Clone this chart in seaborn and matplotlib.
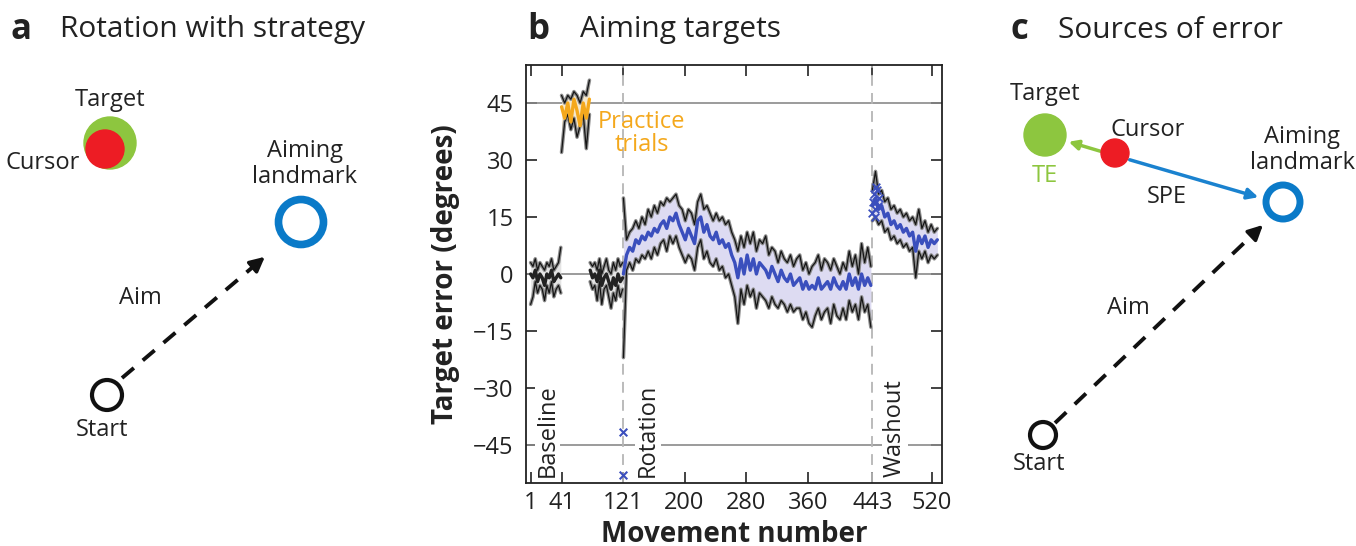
import numpy as np
import pandas as pd
import matplotlib
matplotlib.use('Agg')
import matplotlib.pyplot as plt
import seaborn as sns
from matplotlib.patches import Circle

sns.set_theme(style='ticks')
plt.rcParams['font.family'] = ['Open Sans', 'DejaVu Sans']

# ---- panel b data ----
base1_trials = np.arange(1, 41, 3)
base1_mean = [0, -1, 1, -2, 0, -1, -3, 0, -1, 1, -2, -1, 0, -1]
base1_upper = [3, 2, 4, 1, 3, 2, 1, 3, 2, 4, 1, 2, 3, 7]
base1_lower = [-8, -6, -2, -5, -3, -4, -7, -3, -5, -2, -6, -4, -3, -5]

practice_trials = np.arange(41, 78, 4)
practice_mean = [44, 41, 45, 40, 46, 43, 39, 45, 41, 46]
practice_upper = [47, 45, 47, 46, 48, 47, 45, 48, 47, 51]
practice_lower = [32, 40, 42, 38, 41, 36, 39, 42, 33, 42]

base2_trials = np.arange(78, 121, 3)
base2_mean = [1, -1, 0, -2, 1, -3, -1, 0, -2, -4, -1, -3, 0, -2, -1]
base2_upper = [3, 2, 3, 1, 4, 0, 2, 4, 1, 0, 3, 1, 4, 2, 3]
base2_lower = [-2, -4, -3, -7, -2, -8, -4, -3, -6, -9, -5, -7, -3, -6, -4]

rot_trials = np.arange(121, 442, 4)
rot_mean = [0, 5, 7, 6, 9, 8, 10, 9, 11, 10, 12, 11, 13, 14, 12, 15, 14, 16, 13, 11,
            9, 12, 10, 8, 14, 15, 11, 13, 10, 9, 11, 8, 9, 7, 8, 5, 3, -1, 4, 0,
            5, 1, 4, 0, 3, 2, 1, -1, 2, 0, -2, 1, -1, -2, 0, -3, -2, -1, -4, -2,
            -4, -3, -4, -1, -4, -3, -2, -4, -1, -3, -4, -2, -4, 0, -3, -1, -4, 0, -3, -1,
            -3]
rot_upper = [20, 9, 11, 12, 14, 12, 15, 13, 17, 15, 18, 16, 19, 18, 20, 19, 20, 21, 18, 17,
             14, 17, 16, 13, 19, 21, 17, 18, 16, 14, 16, 14, 15, 13, 14, 11, 9, 6, 10, 7,
             11, 8, 11, 6, 9, 8, 10, 5, 7, 6, 3, 6, 4, 3, 5, 2, 4, 5, 1, 3,
             0, 2, 3, 5, 1, 4, 3, 1, 4, 2, 0, 3, 1, 6, 2, 5, 0, 8, 3, 7,
             2]
rot_lower = [-22, 1, 3, 1, 4, 3, 5, 4, 6, 4, 7, 5, 8, 9, 6, 10, 8, 10, 7, 5,
             3, 5, 4, 1, 7, 9, 4, 6, 3, 2, 4, 1, 2, -1, 0, -3, -6, -13, -4, -8,
             -3, -6, -4, -9, -5, -6, -7, -9, -6, -8, -9, -7, -8, -10, -8, -10, -9, -9, -12, -10,
             -13, -14, -11, -9, -12, -10, -9, -13, -8, -11, -12, -9, -12, -7, -10, -8, -12, -6, -10, -8,
             -14]

wash_trials = np.arange(443, 528, 4)
wash_mean = [18, 20, 17, 18, 15, 16, 13, 14, 12, 13, 11, 12, 10, 11, 6, 10, 8, 10, 7, 9, 8, 9]
wash_upper = [22, 27, 21, 22, 19, 20, 17, 18, 16, 17, 15, 16, 14, 15, 13, 17, 12, 14, 11, 13, 11, 12]
wash_lower = [14, 15, 13, 14, 11, 12, 9, 10, 8, 9, 7, 8, 6, 7, -1, 6, 4, 6, 3, 5, 4, 5]

# single-trial markers
rot_x_trials = [121, 121]
rot_x_vals = [-41.5, -53]
wash_x_trials = [442, 444, 445, 446, 447, 448, 449, 450, 452, 446]
wash_x_vals = [16, 19, 21, 17, 23, 19, 22, 18, 20, 15]

yticks = [-45, -30, -15, 0, 15, 30, 45]
xticks = [1, 41, 121, 200, 280, 360, 443, 520]

blue = '#3b4fbd'
orange = '#f4a81c'
lavender = '#dddbf2'
ink = '#222222'

W, H = 1356, 546
fig = plt.figure(figsize=(W / 100, H / 100), dpi=100)

# overlay for diagrams (pixel coordinates)
ov = fig.add_axes([0, 0, 1, 1])
ov.set_xlim(0, W)
ov.set_ylim(H, 0)
ov.axis('off')


def draw_segment(ax, trials, mean, upper, lower, mean_color, fill_color):
    ax.fill_between(trials, lower, upper, color=fill_color, lw=0, zorder=2)
    for band in (upper, lower):
        sns.lineplot(x=trials, y=band, ax=ax, color='#8c8c8c', lw=2.6, zorder=3)
        sns.lineplot(x=trials, y=band, ax=ax, color='#151515', lw=0.9, zorder=4)
    sns.lineplot(x=trials, y=mean, ax=ax, color=mean_color, lw=2.4, zorder=5)


ax = fig.add_axes([526 / W, 1 - 483 / H, (942 - 526) / W, (483 - 65) / H])
for yv in (45, 0, -45):
    ax.axhline(yv, color='#8a8a8a', lw=1.2, zorder=1)
for xv in (121, 443):
    ax.axvline(xv, color='#b5b5b5', lw=1.3, dashes=(6, 4), zorder=1)

draw_segment(ax, base1_trials, base1_mean, base1_upper, base1_lower, ink, '#e4e4e4')
draw_segment(ax, base2_trials, base2_mean, base2_upper, base2_lower, ink, '#e4e4e4')
draw_segment(ax, practice_trials, practice_mean, practice_upper, practice_lower, orange, '#f6e8cc')
draw_segment(ax, rot_trials, rot_mean, rot_upper, rot_lower, blue, lavender)
draw_segment(ax, wash_trials, wash_mean, wash_upper, wash_lower, blue, lavender)

ax.scatter(rot_x_trials, rot_x_vals, marker='x', color=blue, s=30, lw=1.5, zorder=6)
ax.scatter(wash_x_trials, wash_x_vals, marker='x', color=blue, s=30, lw=1.3, zorder=6)

ax.set_xlim(-5, 533)
ax.set_ylim(-55, 55)
ax.set_xticks(xticks)
ax.set_yticks(yticks)
ax.set_yticklabels(['\u221245', '\u221230', '\u221215', '0', '15', '30', '45'])
ax.tick_params(direction='in', length=8, width=1.2, top=True, right=True,
               labelsize=17, colors=ink, pad=6)
ax.tick_params(axis='y', pad=9)
for sp in ax.spines.values():
    sp.set_color(ink)
    sp.set_linewidth(1.3)
ax.set_xlabel('Movement number', fontsize=20, fontweight='bold', labelpad=3, color=ink)
ax.set_ylabel('Target error (degrees)', fontsize=20, fontweight='bold', labelpad=9, color=ink)

ax.text(145, 37, 'Practice\ntrials', color=orange, fontsize=17, ha='center', va='center',
        linespacing=0.95, zorder=7)
for xv, lab in ((23, 'Baseline'), (153, 'Rotation'), (472, 'Washout')):
    ax.text(xv, -53.5, lab, rotation=90, ha='center', va='bottom', fontsize=17,
            color=ink, zorder=7,
            bbox=dict(facecolor='white', edgecolor='none', pad=0.5))

# ---- titles ----
for x0, letter, x1, title in ((10, 'a', 60, 'Rotation with strategy'),
                              (527, 'b', 580, 'Aiming targets'),
                              (1011, 'c', 1058, 'Sources of error')):
    ov.text(x0, 30, letter, fontsize=25, fontweight='bold', ha='left', va='center', color=ink)
    ov.text(x1, 30, title, fontsize=21.5, ha='left', va='center', color=ink)

tk = dict(fontsize=17, color=ink, ha='center', va='center')


def dashed_arrow(p0, p1):
    frac = 0.93
    mid = (p0[0] + (p1[0] - p0[0]) * frac, p0[1] + (p1[1] - p0[1]) * frac)
    ov.plot([p0[0], mid[0]], [p0[1], mid[1]], color='#111111', lw=2.8, dashes=(4, 3))
    ov.annotate('', xy=p1, xytext=mid,
                arrowprops=dict(arrowstyle='-|>', color='#111111', lw=2.5, mutation_scale=22))


# ---- panel a ----
ov.add_patch(Circle((110, 143), 26, color='#8dc63f', zorder=3))
ov.add_patch(Circle((105, 149), 19, color='#ed1c24', zorder=4))
ov.add_patch(Circle((301, 222), 22.5, fill=False, ec='#0a7ac8', lw=5.5, zorder=3))
ov.add_patch(Circle((107, 395), 15, fill=False, ec='#111111', lw=3, zorder=3))
dashed_arrow((122, 378), (267, 255))
ov.text(110, 100, 'Target', **tk)
ov.text(43, 163, 'Cursor', **tk)
ov.text(305, 164, 'Aiming\nlandmark', linespacing=1.1, **tk)
ov.text(140, 298, 'Aim', **tk)
ov.text(102, 430, 'Start', **tk)

# ---- panel c ----
ov.add_patch(Circle((1045, 135), 21, color='#8dc63f', zorder=3))
ov.add_patch(Circle((1115, 153), 14, color='#ed1c24', zorder=4))
ov.add_patch(Circle((1283, 202), 17, fill=False, ec='#0a7ac8', lw=5, zorder=3))
ov.add_patch(Circle((1043, 435), 13, fill=False, ec='#111111', lw=3, zorder=3))
ov.annotate('', xy=(1066, 141), xytext=(1103, 152),
            arrowprops=dict(arrowstyle='-|>', color='#8dc63f', lw=2.5, mutation_scale=14))
ov.annotate('', xy=(1261, 198), xytext=(1127, 159),
            arrowprops=dict(arrowstyle='-|>', color='#1a82cf', lw=2.5, mutation_scale=16))
dashed_arrow((1055, 423), (1265, 223))
ov.text(1045, 94, 'Target', **tk)
ov.text(1045, 176, 'TE', fontsize=17, color='#8dc63f', ha='center', va='center')
ov.text(1148, 130, 'Cursor', **tk)
ov.text(1302, 150, 'Aiming\nlandmark', linespacing=1.1, **tk)
ov.text(1167, 197, 'SPE', **tk)
ov.text(1128, 308, 'Aim', **tk)
ov.text(1039, 464, 'Start', **tk)

fig.savefig('out.png', dpi=100)
